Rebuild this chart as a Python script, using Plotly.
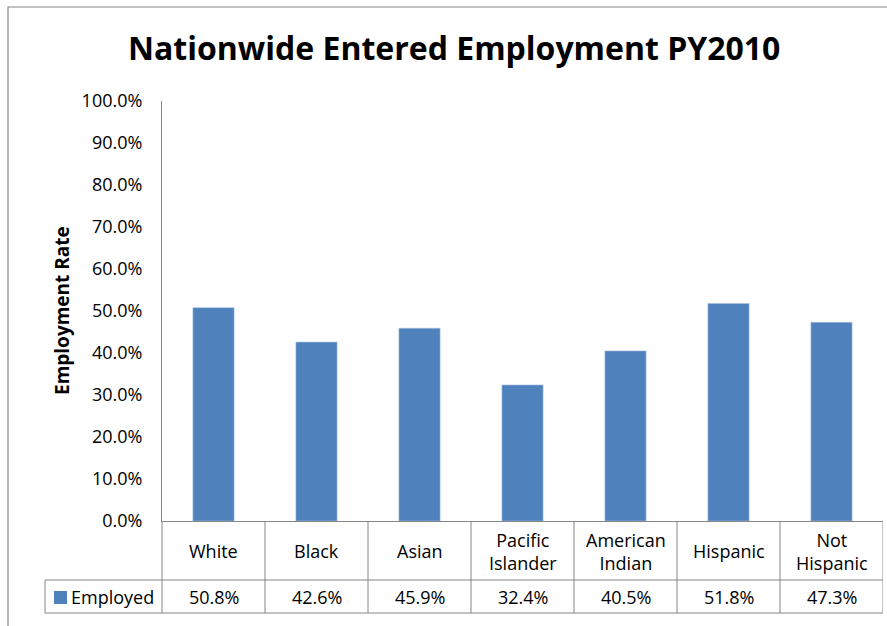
import plotly.graph_objects as go

# ---------------- data ----------------
categories = ["White", "Black", "Asian", "Pacific Islander", "American Indian", "Hispanic", "Not Hispanic"]
category_labels = ["White", "Black", "Asian", "Pacific<br>Islander", "American<br>Indian", "Hispanic", "Not<br>Hispanic"]
employed = [50.8, 42.6, 45.9, 32.4, 40.5, 51.8, 47.3]
series_name = "Employed"
y_ticks = [0, 10, 20, 30, 40, 50, 60, 70, 80, 90, 100]
y_tick_labels = [f"{v:.1f}%" for v in y_ticks]
title_text = "Nationwide Entered Employment PY2010"
y_title = "Employment Rate"

# ---------------- layout geometry (pixels) ----------------
W, H = 887, 626
L, R, T, B = 162, 883, 101, 521
PW, PH = R - L, B - T

def px(x):
    return (x - L) / PW

def py(y):
    return 1 - (y - T) / PH

FONT = "Open Sans, Noto Sans, sans-serif"
BLUE = "#4F81BD"
GRID = "#868686"

fig = go.Figure()
fig.add_trace(go.Bar(
    x=categories, y=employed, name=series_name,
    marker=dict(color=BLUE, line=dict(color="#A9C1E0", width=0.6)),
    width=0.4, showlegend=False,
))

shapes = []
# outer chart border
shapes.append(dict(type="rect", xref="paper", yref="paper", x0=px(8), x1=px(905),
                   y0=py(7), y1=py(640), line=dict(color=GRID, width=1.2)))
# y-axis extension through table
shapes.append(dict(type="line", xref="paper", yref="paper", x0=0, x1=0,
                   y0=py(521), y1=py(613), line=dict(color=GRID, width=1)))
# table horizontal lines
for yy in (580, 613):
    shapes.append(dict(type="line", xref="paper", yref="paper", x0=px(45), x1=1,
                       y0=py(yy), y1=py(yy), line=dict(color=GRID, width=1)))
# table vertical lines (category boundaries)
n = len(categories)
for k in range(1, n + 1):
    shapes.append(dict(type="line", xref="x", yref="paper", x0=k - 0.5, x1=k - 0.5,
                       y0=py(521), y1=py(613), line=dict(color=GRID, width=1)))
# legend cell left border
shapes.append(dict(type="line", xref="paper", yref="paper", x0=px(45), x1=px(45),
                   y0=py(580), y1=py(613), line=dict(color=GRID, width=1)))
# legend key
shapes.append(dict(type="rect", xref="paper", yref="paper", x0=px(54), x1=px(67),
                   y0=py(604), y1=py(591), fillcolor=BLUE, line=dict(width=0)))

annotations = []
annotations.append(dict(text=f"<b>{title_text}</b>", xref="paper", yref="paper",
                        x=px(454), y=py(47), xanchor="center", yanchor="middle",
                        showarrow=False, font=dict(family=FONT, size=32, color="#000")))
annotations.append(dict(text=f"<b>{y_title}</b>", xref="paper", yref="paper",
                        x=px(62), y=py(311), xanchor="center", yanchor="middle",
                        textangle=-90, showarrow=False,
                        font=dict(family=FONT, size=19, color="#000")))
for i, lab in enumerate(category_labels):
    annotations.append(dict(text=lab, xref="x", yref="paper", x=i, y=py(551),
                            xanchor="center", yanchor="middle", showarrow=False,
                            font=dict(family=FONT, size=18, color="#000")))
for i, v in enumerate(employed):
    annotations.append(dict(text=f"{v:.1f}%", xref="x", yref="paper", x=i, y=py(597),
                            xanchor="center", yanchor="middle", showarrow=False,
                            font=dict(family=FONT, size=18, color="#000")))
annotations.append(dict(text=series_name, xref="paper", yref="paper", x=px(69), y=py(597),
                        xanchor="left", yanchor="middle", showarrow=False,
                        font=dict(family=FONT, size=18, color="#000")))

fig.update_layout(
    width=W, height=H, autosize=False,
    margin=dict(l=L, r=W - R, t=T, b=H - B, pad=0),
    paper_bgcolor="white", plot_bgcolor="white",
    font=dict(family=FONT, size=18, color="#000"),
    xaxis=dict(type="category", range=[-0.5, n - 0.5], showticklabels=False,
               showline=True, linecolor=GRID, linewidth=1, ticks="",
               showgrid=False, zeroline=False, fixedrange=True),
    yaxis=dict(range=[0, 100], tickvals=y_ticks, ticktext=y_tick_labels,
               showline=True, linecolor=GRID, linewidth=1, ticks="",
               ticklabelstandoff=15, showgrid=False, zeroline=False,
               tickfont=dict(family=FONT, size=18, color="#000"), fixedrange=True),
    shapes=shapes, annotations=annotations,
    bargap=0.6,
)

fig.write_html("out.html", config={"displayModeBar": False},
               post_script="document.body.style.margin='0';document.body.style.overflow='hidden';")
